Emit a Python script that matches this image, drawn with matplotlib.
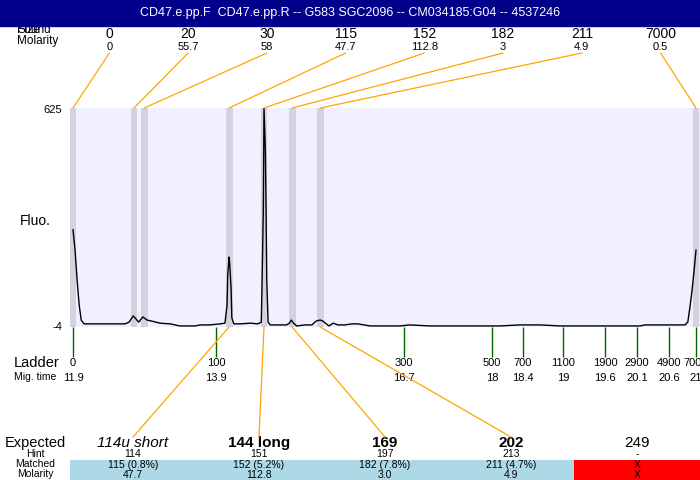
import math
import matplotlib
matplotlib.use("Agg")
import matplotlib.pyplot as plt
from matplotlib.patches import Rectangle, ConnectionPatch
from matplotlib.transforms import blended_transform_factory

plt.rcParams["font.family"] = ["Liberation Sans", "DejaVu Sans"]

title = "CD47.e.pp.F  CD47.e.pp.R -- G583 SGC2096 -- CM034185:G04 -- 4537246"

# peaks found (size bp, molarity, migration time)
peak_size = [0, 20, 30, 115, 152, 182, 211, 7000]
peak_molarity = [0, 55.7, 58, 47.7, 112.8, 3, 4.9, 0.5]
peak_time = [11.90, 12.79, 12.94, 14.18, 14.69, 15.10, 15.51, 21.00]

# ladder
ladder_size = [0, 100, 300, 500, 700, 1100, 1900, 2900, 4900, 7000]
ladder_time = [11.90, 13.99, 16.73, 18.02, 18.47, 19.06, 19.67, 20.14, 20.61, 21.00]

# electropherogram trace
trace_time = [11.90, 11.93, 11.96, 11.99, 12.02, 12.06, 12.29, 12.66, 12.72, 12.78,
              12.82, 12.86, 12.92, 12.98, 13.05, 13.17, 13.32, 13.46, 13.68, 13.76,
              13.90, 14.05, 14.12, 14.15, 14.16, 14.18, 14.19, 14.21, 14.22, 14.25,
              14.34, 14.49, 14.60, 14.65, 14.66, 14.68, 14.69, 14.71, 14.72, 14.73,
              14.75, 14.78, 14.92, 15.02, 15.06, 15.09, 15.12, 15.17, 15.29, 15.39,
              15.45, 15.51, 15.55, 15.60, 15.64, 15.70, 15.77, 15.87, 15.98, 16.06,
              16.24, 16.38, 16.68, 16.82, 17.11, 17.70, 18.14, 18.43, 18.72, 19.01,
              19.45, 20.18, 20.26, 20.47, 20.62, 20.84, 20.88, 20.91, 20.94, 20.97,
              21.00]
trace_fluo = [275, 217, 131, 59, 16, 5, 5, 5, 10, 28,
              19, 10, 25, 16, 13, 7, 5, -1, -1, 2,
              2, 5, 7, 59, 145, 197, 174, 102, 22, 5,
              5, 7, 5, 10, 102, 332, 625, 504, 332, 131,
              10, 2, 2, 2, 7, 16, 7, -1, 2, 2,
              13, 16, 13, 5, -1, 7, 2, 2, 5, 5,
              -1, -1, -1, 2, -1, -1, -1, 2, 2, -1,
              -1, -1, 2, 2, 2, 2, 10, 51, 97, 154,
              217]

# expected table
expected_label = ["114u short", "144 long", "169", "202", "249"]
expected_style = ["italic", "bold", "bold", "bold", "normal"]
expected_hint = ["114", "151", "197", "213", "-"]
matched_text = ["115 (0.8%)", "152 (5.2%)", "182 (7.8%)", "211 (4.7%)", "X"]
matched_molarity = ["47.7", "112.8", "3.0", "4.9", "X"]
matched_peak = [3, 4, 5, 6, None]

y_min, y_max = -4, 625
band = 0.05

fig = plt.figure(figsize=(7, 4.8), dpi=100)

# overlay in pixel coords (y down)
ov = fig.add_axes([0, 0, 1, 1])
ov.set_xlim(0, 700)
ov.set_ylim(480, 0)
ov.axis("off")

ax = fig.add_axes([70 / 700, 153 / 480, 630 / 700, 219 / 480])
ax.set_facecolor("#F0F0FF")
ax.set_xlim(11.9 - 3 / 68.46, 21.0 + 4 / 68.46)
ax.set_ylim(y_min, y_max)
ax.set_xticks([])
ax.set_yticks([])
for s in ax.spines.values():
    s.set_visible(False)

for t in peak_time:
    ax.axvspan(t - band, t + band, color="#D3D3E0", lw=0)
ax.plot(trace_time, trace_fluo, color="black", lw=1.0)

# header bar
ov.add_patch(Rectangle((0, 0), 700, 26, color="#00008B", zorder=1))
ov.text(350, 13, title, color="white", fontsize=9, ha="center", va="center", zorder=2)
ov.text(17, 30, "Found", fontsize=8.5, va="center", zorder=0)
ov.text(17, 30, "Size", fontsize=8.5, va="center", zorder=0)
ov.text(17, 41, "Molarity", fontsize=8.5, va="center")

# peak header columns
col_w = 630 / len(peak_size)
for i, (s, m, t) in enumerate(zip(peak_size, peak_molarity, peak_time)):
    cx = 70 + col_w * (i + 0.5)
    ov.text(cx, 34, f"{s}", fontsize=10, ha="center", va="center")
    ov.text(cx, 47, f"{m:g}", fontsize=8, ha="center", va="center")
    fig.add_artist(ConnectionPatch(xyA=(cx, 53), coordsA=ov.transData,
                                   xyB=(t, y_max), coordsB=ax.transData,
                                   color="orange", lw=0.9))

ov.text(62, 110, f"{y_max}", fontsize=8, ha="right", va="center")
ov.text(62, 327, f"{y_min}", fontsize=8, ha="right", va="center")
ov.text(20, 221, "Fluo.", fontsize=10, va="center")

# ladder
bt = blended_transform_factory(ax.transData, ov.transData)
ov.vlines(ladder_time, 327, 357, color="#006400", lw=1, transform=bt)
for s, t in zip(ladder_size, ladder_time):
    ov.text(t, 363, f"{s}", fontsize=8, ha="center", va="center", transform=bt)
    ov.text(t, 378, f"{math.floor(t * 10 + 1e-6) / 10:g}", fontsize=8,
            ha="center", va="center", transform=bt)
ov.text(14, 363, "Ladder", fontsize=10.5, va="center")
ov.text(14, 377, "Mig. time", fontsize=7.5, va="center")

# expected table
ecol_w = 630 / len(expected_label)
ov.text(35, 443, "Expected", fontsize=10.5, ha="center", va="center")
ov.text(35, 454, "Hint", fontsize=7.5, ha="center", va="center")
ov.text(35, 464, "Matched", fontsize=7.5, ha="center", va="center")
ov.text(35, 474, "Molarity", fontsize=7.5, ha="center", va="center")
for i, lab in enumerate(expected_label):
    cx = 70 + ecol_w * (i + 0.5)
    st = expected_style[i]
    ov.text(cx, 443, lab, fontsize=11, ha="center", va="center",
            fontstyle="italic" if st == "italic" else "normal",
            fontweight="bold" if st == "bold" else "normal")
    ov.text(cx, 454, expected_hint[i], fontsize=7.5, ha="center", va="center")
    ov.bar(cx, 20, bottom=460, width=ecol_w,
           color="#ADD8E6" if matched_peak[i] is not None else "red", lw=0)
    ov.text(cx, 465, matched_text[i], fontsize=7.5, ha="center", va="center")
    ov.text(cx, 475, matched_molarity[i], fontsize=7.5, ha="center", va="center")
    if matched_peak[i] is not None:
        fig.add_artist(ConnectionPatch(xyA=(peak_time[matched_peak[i]], y_min),
                                       coordsA=ax.transData,
                                       xyB=(cx, 437), coordsB=ov.transData,
                                       color="orange", lw=0.9))

fig.savefig("out.png", dpi=100)
